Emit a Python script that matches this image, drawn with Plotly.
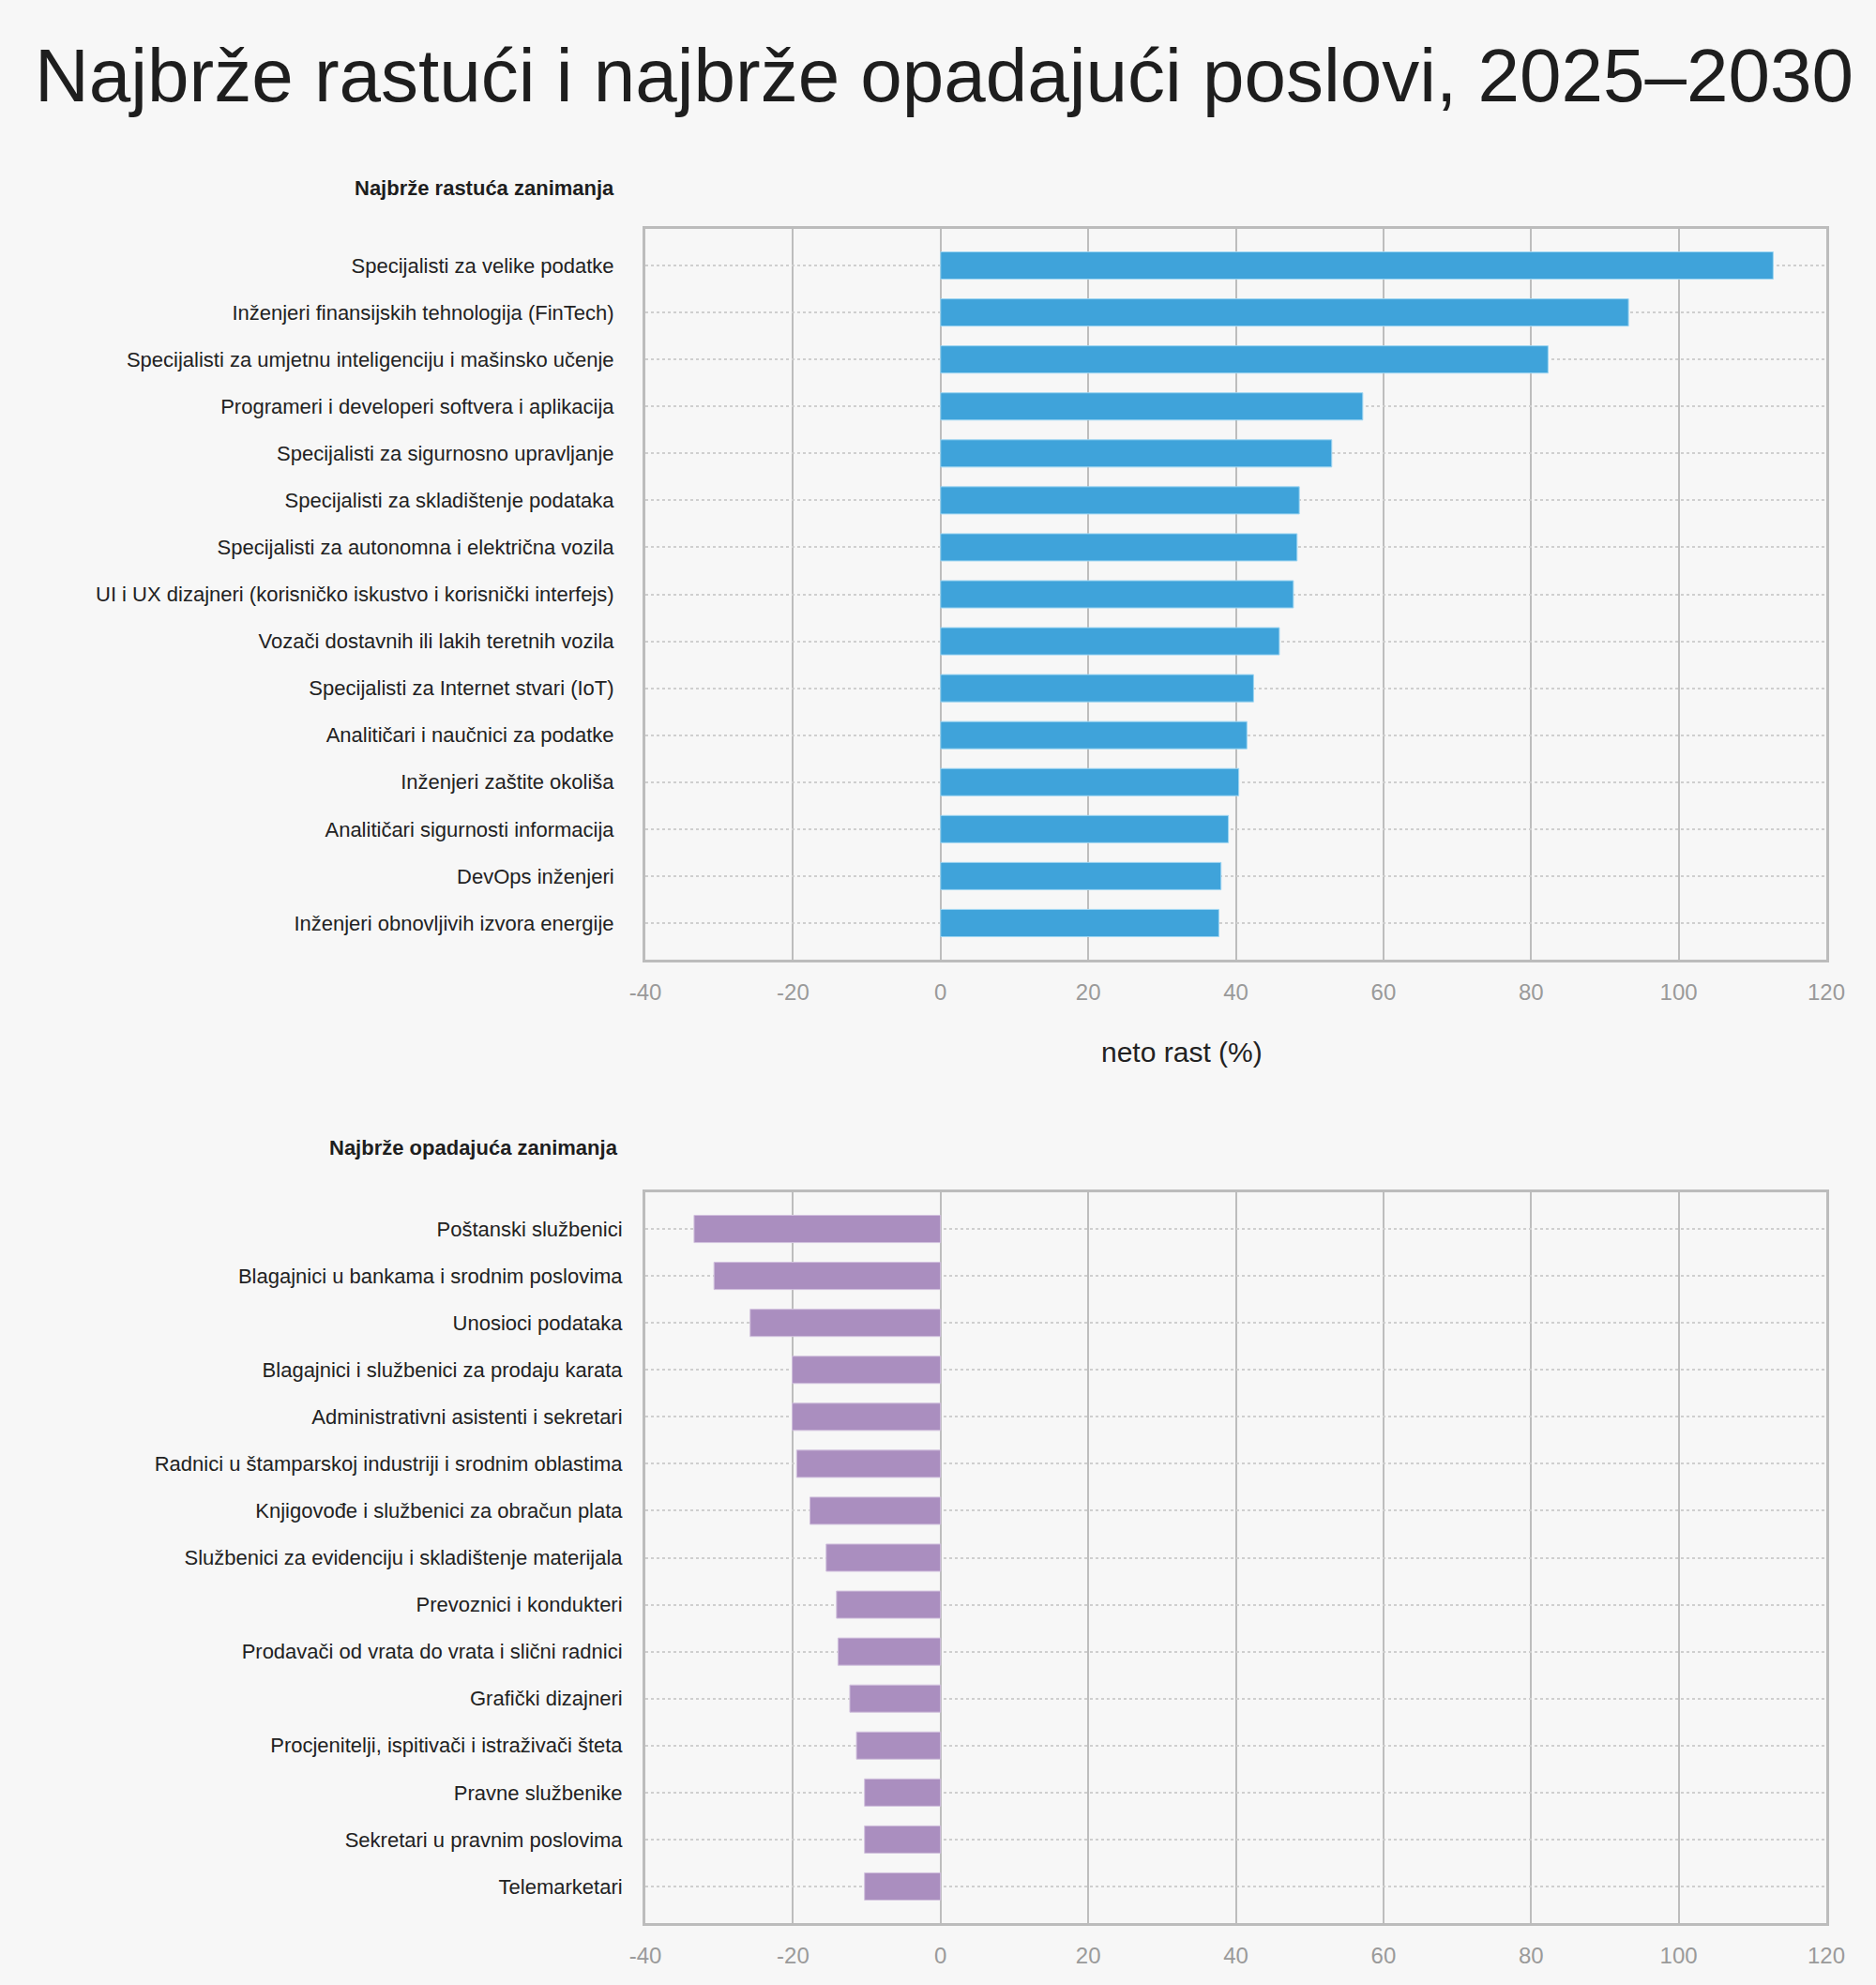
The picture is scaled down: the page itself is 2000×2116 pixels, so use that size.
import plotly.graph_objects as go

title_text = "Najbrže rastući i najbrže opadajući poslovi, 2025–2030"
growth_title = "Najbrže rastuća zanimanja"
decline_title = "Najbrže opadajuća zanimanja"
x_title = "neto rast (%)"

growth_jobs = [
    "Specijalisti za velike podatke",
    "Inženjeri finansijskih tehnologija (FinTech)",
    "Specijalisti za umjetnu inteligenciju i mašinsko učenje",
    "Programeri i developeri softvera i aplikacija",
    "Specijalisti za sigurnosno upravljanje",
    "Specijalisti za skladištenje podataka",
    "Specijalisti za autonomna i električna vozila",
    "UI i UX dizajneri (korisničko iskustvo i korisnički interfejs)",
    "Vozači dostavnih ili lakih teretnih vozila",
    "Specijalisti za Internet stvari (IoT)",
    "Analitičari i naučnici za podatke",
    "Inženjeri zaštite okoliša",
    "Analitičari sigurnosti informacija",
    "DevOps inženjeri",
    "Inženjeri obnovljivih izvora energije",
]
growth_values = [112.8, 93.2, 82.3, 57.2, 53.0, 48.6, 48.3, 47.8, 45.9, 42.4, 41.5, 40.4, 39.0, 38.0, 37.7]

decline_jobs = [
    "Poštanski službenici",
    "Blagajnici u bankama i srodnim poslovima",
    "Unosioci podataka",
    "Blagajnici i službenici za prodaju karata",
    "Administrativni asistenti i sekretari",
    "Radnici u štamparskoj industriji i srodnim oblastima",
    "Knjigovođe i službenici za obračun plata",
    "Službenici za evidenciju i skladištenje materijala",
    "Prevoznici i kondukteri",
    "Prodavači od vrata do vrata i slični radnici",
    "Grafički dizajneri",
    "Procjenitelji, ispitivači i istraživači šteta",
    "Pravne službenike",
    "Sekretari u pravnim poslovima",
    "Telemarketari",
]
decline_values = [-33.4, -30.7, -25.8, -20.1, -20.1, -19.5, -17.7, -15.5, -14.1, -13.9, -12.3, -11.4, -10.3, -10.3, -10.3]

x_tick_vals = [-40, -20, 0, 20, 40, 60, 80, 100, 120]
x_tick_text = ["-40", "-20", "0", "20", "40", "60", "80", "100", "120"]

FONT = "Liberation Sans, Arial, Helvetica, sans-serif"
BG = "#f7f7f7"
W, H = 2000, 2116

fig = go.Figure()
fig.add_trace(go.Bar(
    x=growth_values, y=growth_jobs, orientation="h",
    marker=dict(color="#3fa3da", line=dict(color="#9fd6f2", width=1)),
    width=0.58, xaxis="x", yaxis="y", showlegend=False, hoverinfo="x+y",
))
fig.add_trace(go.Bar(
    x=decline_values, y=decline_jobs, orientation="h",
    marker=dict(color="#aa8ebf", line=dict(color="#d2c2de", width=1)),
    width=0.58, xaxis="x2", yaxis="y2", showlegend=False, hoverinfo="x+y",
))

xdom = [688 / W, 1947 / W]
top_dom = [1 - 1023 / H, 1 - 244 / H]
bot_dom = [1 - 2050 / H, 1 - 1271 / H]

def xaxis_cfg(anchor):
    return dict(
        domain=xdom, anchor=anchor, range=[-40, 120],
        tickmode="array", tickvals=x_tick_vals, ticktext=x_tick_text,
        showgrid=True, gridcolor="#bdbdbd", gridwidth=2,
        zeroline=False, showline=True, linecolor="#bcbcbc", linewidth=3, mirror=True,
        ticks="outside", ticklen=11, tickcolor="rgba(0,0,0,0)",
        tickfont=dict(family=FONT, size=24, color="#9a9a9a"),
        automargin=False, fixedrange=True,
    )

def yaxis_cfg(anchor, dom, cats, standoff):
    return dict(
        domain=dom, anchor=anchor, type="category",
        categoryorder="array", categoryarray=cats,
        range=[14.78, -0.78],
        showgrid=True, gridcolor="#cfcfcf", gridwidth=2, griddash="dot",
        zeroline=False, showline=True, linecolor="#bcbcbc", linewidth=3, mirror=True,
        ticks="outside", ticklen=standoff, tickcolor="rgba(0,0,0,0)",
        tickfont=dict(family=FONT, size=22, color="#222222"),
        automargin=False, fixedrange=True,
    )

fig.update_layout(
    width=W, height=H,
    margin=dict(l=0, r=0, t=0, b=0),
    paper_bgcolor=BG, plot_bgcolor=BG,
    bargap=0.4,
    xaxis=xaxis_cfg("y"),
    yaxis=yaxis_cfg("x", top_dom, growth_jobs, 26),
    xaxis2=xaxis_cfg("y2"),
    yaxis2=yaxis_cfg("x2", bot_dom, decline_jobs, 17),
    annotations=[
        dict(text=title_text, x=1007 / W, y=1 - 81 / H, xref="paper", yref="paper",
             xanchor="center", yanchor="middle", showarrow=False,
             font=dict(family=FONT, size=80, color="#1e1e1e")),
        dict(text="<b>" + growth_title + "</b>", x=657 / W, y=1 - 200 / H, xref="paper", yref="paper",
             xanchor="right", yanchor="middle", showarrow=False,
             font=dict(family=FONT, size=22, color="#1e1e1e")),
        dict(text="<b>" + decline_title + "</b>", x=661 / W, y=1 - 1223 / H, xref="paper", yref="paper",
             xanchor="right", yanchor="middle", showarrow=False,
             font=dict(family=FONT, size=22, color="#1e1e1e")),
        dict(text=x_title, x=1260 / W, y=1 - 1121 / H, xref="paper", yref="paper",
             xanchor="center", yanchor="middle", showarrow=False,
             font=dict(family=FONT, size=30, color="#222222")),
    ],
)

fig.write_html("out.html")
